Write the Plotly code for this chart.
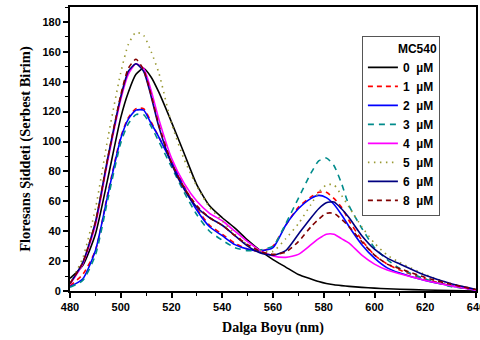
import plotly.graph_objects as go

wavelength = [480, 485, 490, 495, 500, 503, 506, 509, 512, 515, 520, 525, 530, 535, 540,
              545, 550, 555, 560, 565, 570, 575, 578, 581, 584, 587, 590, 595, 600, 605,
              610, 620, 630, 640]

s0 = [8.5, 17, 38, 76, 116, 133, 145, 149, 143, 133, 113, 92, 71, 57, 49,
      42, 34, 27, 21, 16, 11, 8, 6.3, 5, 4.2, 3.6, 3.1, 2.4, 1.9, 1.5,
      1.2, 0.7, 0.3, 0]
s1 = [3.5, 11, 27, 66, 103, 116, 122, 122, 113, 103, 87, 70, 55, 44, 38,
      32, 28, 26.5, 30, 44, 56, 63, 66, 66, 62, 56, 47, 34, 24, 18,
      14, 8, 3.5, 0.5]
s2 = [3, 8, 27, 65, 102, 115, 121, 121, 112, 103, 86, 69, 54, 43, 37,
      31, 28, 27, 29, 44, 55, 62, 64, 62.5, 58, 51, 43, 31, 22, 15.5,
      12, 7, 3.5, 0.5]
s3 = [2.5, 7, 24, 62, 99, 112, 118, 118, 110, 100, 83, 66, 51, 40, 34,
      29, 27, 27.5, 30, 45, 62, 79, 87, 89, 84, 72, 57, 42, 29, 21,
      15, 8, 3, 1]
s4 = [4.5, 18, 44, 88, 128, 145, 152, 149, 134, 115, 89, 72, 60, 52, 47,
      40, 33, 27, 23.5, 22.5, 24.5, 31, 35, 38, 38, 35, 32, 24, 18, 14,
      11.5, 7, 3.5, 0.5]
s5 = [5, 22, 55, 103, 146, 165, 173, 171, 160, 146, 112, 88, 70, 56, 47,
      38, 31, 27, 26.5, 35, 45, 58, 66, 71, 71, 64, 56, 43, 32, 24,
      19, 11, 5, 1]
s6 = [5, 19, 46, 90, 130, 147, 152, 147, 130, 110, 85, 68, 56, 49, 44,
      37, 30, 25.5, 24, 27, 38, 49, 55, 59, 59.5, 55, 49, 37, 28, 22,
      18, 10.5, 5, 1]
s8 = [5, 19, 46, 90, 131, 149, 155, 148, 131, 111, 86, 69, 57, 49, 44,
      37, 31, 26.5, 24.5, 26, 33, 43, 48, 52, 52, 48, 43, 33, 24, 18,
      15, 9, 4.5, 1]

series_names = ["0\u00a0\u00a0µM", "1\u00a0\u00a0µM", "2\u00a0\u00a0µM", "3\u00a0\u00a0µM",
                "4\u00a0\u00a0µM", "5\u00a0\u00a0µM", "6\u00a0\u00a0µM", "8\u00a0\u00a0µM"]
series_values = [s0, s1, s2, s3, s4, s5, s6, s8]
colors = ["#000000", "#FF0000", "#0000FF", "#008B8B", "#FF00FF", "#999933", "#000080", "#800000"]
dashes = ["solid", "5px,4px", "solid", "6px,5px", "solid", "1.5px,4.5px", "solid", "5px,4px"]

fig = go.Figure()
for name, vals, c, d in zip(series_names, series_values, colors, dashes):
    fig.add_trace(go.Scatter(
        x=wavelength, y=vals, name="<b>" + name + "</b>", mode="lines",
        line=dict(color=c, dash=d, width=1.6, shape="spline", smoothing=0.6),
    ))

tickfont = dict(family="Liberation Sans, Arial", size=11, color="black")
fig.update_layout(
    width=480, height=340,
    margin=dict(l=70, r=4, t=7, b=49, autoexpand=False),
    paper_bgcolor="white", plot_bgcolor="white",
    showlegend=True,
    legend=dict(
        x=0.719, y=0.897, xanchor="left", yanchor="top",
        bordercolor="#555555", borderwidth=1, bgcolor="white",
        font=dict(family="Liberation Sans, Arial", size=12, color="black"),
        title=dict(text="<b>MC540</b>", side="top right",
                   font=dict(family="Liberation Sans, Arial", size=12, color="black")),
        itemwidth=30, tracegroupgap=0,
    ),
    xaxis=dict(
        range=[480, 640], tickmode="linear", tick0=480, dtick=20,
        ticks="outside", ticklen=5, tickwidth=1.5, tickcolor="black",
        minor=dict(ticks="outside", ticklen=3, dtick=10, tickcolor="black", tickwidth=1),
        showline=True, linecolor="black", linewidth=2, mirror=True,
        showgrid=False, zeroline=False, automargin=False,
        tickfont=tickfont, ticklabeloverflow="allow",
        tickprefix="<b>", ticksuffix="</b>",
        title=dict(text="<b>Dalga Boyu (nm)</b>", standoff=10,
                   font=dict(family="Liberation Serif, Times New Roman", size=14, color="black")),
    ),
    yaxis=dict(
        range=[0, 190], tickmode="linear", tick0=0, dtick=20,
        ticks="outside", ticklen=5, tickwidth=1.5, tickcolor="black",
        minor=dict(ticks="outside", ticklen=3, dtick=10, tickcolor="black", tickwidth=1),
        showline=True, linecolor="black", linewidth=2, mirror=True,
        showgrid=False, zeroline=False, automargin=False,
        tickfont=tickfont,
        tickprefix="<b>", ticksuffix="</b>",
        title=dict(text="<b>Floresans Şiddeti (Serbest Birim)</b>", standoff=8,
                   font=dict(family="Liberation Serif, Times New Roman", size=14.5, color="black")),
    ),
)

fig.write_html("out.html", config={"displayModeBar": False},
               post_script="document.body.style.margin='0';document.body.style.padding='0';")
